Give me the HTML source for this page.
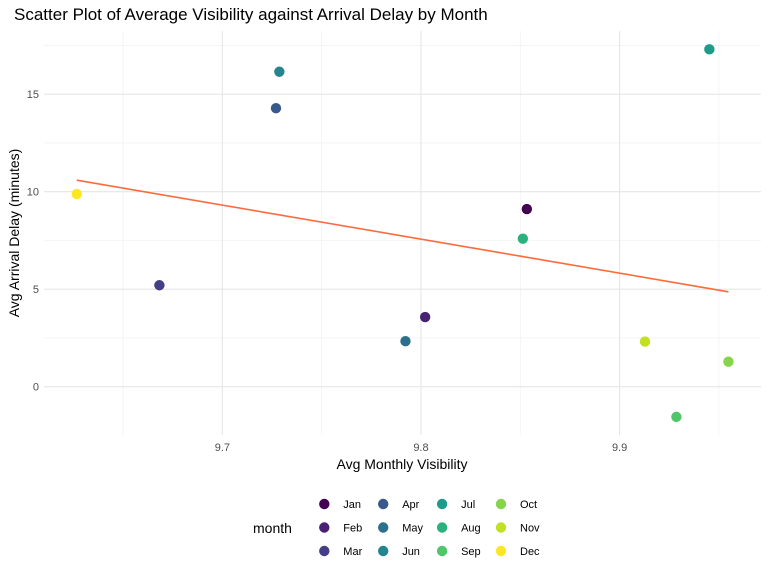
<!DOCTYPE html>
<html><head><meta charset="utf-8"><style>
body{margin:0;background:#fff;font-family:"Liberation Sans",sans-serif}
svg text{font-family:"Liberation Sans",sans-serif}
</style></head><body>
<svg id="chart" width="768" height="576" viewBox="0 0 768 576" xmlns="http://www.w3.org/2000/svg">
<text x="14" y="20" font-size="17" fill="#000">Scatter Plot of Average Visibility against Arrival Delay by Month</text>
<g id="grid"></g>
<g id="ticks"></g>
<g id="marks"></g>
<text x="402" y="469" font-size="14" text-anchor="middle">Avg Monthly Visibility</text>
<text transform="translate(19,233) rotate(-90)" font-size="14" text-anchor="middle">Avg Arrival Delay (minutes)</text>
<text x="253" y="533" font-size="14">month</text>
<g id="legend"></g>
</svg>
<script>
const months=["Jan","Feb","Mar","Apr","May","Jun","Jul","Aug","Sep","Oct","Nov","Dec"];
const visibility=[9.8533,9.8021,9.6683,9.727,9.7922,9.7287,9.9452,9.8513,9.9286,9.9548,9.9128,9.6267];
const delay=[9.11,3.57,5.2,14.28,2.33,16.15,17.3,7.59,-1.55,1.28,2.31,9.88];
const colors=["#440154","#482173","#433E85","#38598C","#2D708E","#25858E","#1E9B8A","#2BB07F","#51C56A","#85D54A","#C2DF23","#FDE725"];
const xTicks=[9.7,9.8,9.9];
const xMinor=[9.65,9.75,9.85,9.95];
const yTicks=[0,5,10,15];
const yMinor=[2.5,7.5,12.5,17.5];
const L=44,R=761,T=31,B=435;
const X0=9.6102,X1=9.9712,Y0=-2.48,Y1=18.24;
const sx=v=>L+(v-X0)/(X1-X0)*(R-L);
const sy=v=>B-(v-Y0)/(Y1-Y0)*(B-T);
const NS="http://www.w3.org/2000/svg";
function mk(tag,attrs,parent){const e=document.createElementNS(NS,tag);for(const k in attrs)e.setAttribute(k,attrs[k]);parent.appendChild(e);return e;}
const grid=document.getElementById('grid'),ticks=document.getElementById('ticks'),marks=document.getElementById('marks'),legend=document.getElementById('legend');
xMinor.forEach(v=>{const l=mk('line',{x1:sx(v),x2:sx(v),y1:T,y2:B,stroke:'#f2f2f2','stroke-width':0.8},grid);

});
yMinor.forEach(v=>{const l=mk('line',{x1:L,x2:R,y1:sy(v),y2:sy(v),stroke:'#f2f2f2','stroke-width':0.8},grid);

});
xTicks.forEach(v=>{const l=mk('line',{x1:sx(v),x2:sx(v),y1:T,y2:B,stroke:'#e6e6e6','stroke-width':1.1},grid);


const t=mk('text',{x:sx(v),y:451,'font-size':11,fill:'#4d4d4d','text-anchor':'middle'},ticks);t.textContent=v.toFixed(1);

});
yTicks.forEach(v=>{const l=mk('line',{x1:L,x2:R,y1:sy(v),y2:sy(v),stroke:'#e6e6e6','stroke-width':1.1},grid);


const t=mk('text',{x:39,y:sy(v)+4,'font-size':11,fill:'#4d4d4d','text-anchor':'end'},ticks);t.textContent=v;

});
// regression
const n=visibility.length,mx=visibility.reduce((a,b)=>a+b)/n,my=delay.reduce((a,b)=>a+b)/n;
let sxy=0,sxx=0;for(let i=0;i<n;i++){sxy+=(visibility[i]-mx)*(delay[i]-my);sxx+=(visibility[i]-mx)**2;}
const slope=sxy/sxx,icpt=my-slope*mx;
const xa=Math.min(...visibility),xb=Math.max(...visibility);
const rl=mk('line',{x1:sx(xa),y1:sy(icpt+slope*xa),x2:sx(xb),y2:sy(icpt+slope*xb),stroke:'#FF6A3D','stroke-width':1.6},marks);


visibility.forEach((v,i)=>{const c=mk('circle',{cx:sx(v),cy:sy(delay[i]),r:5.2,fill:colors[i]},marks);

});
months.forEach((m,i)=>{const col=Math.floor(i/3),row=i%3;const cx=324.3+col*58.9,cy=504+row*23.5;
const c=mk('circle',{cx:cx,cy:cy,r:5.2,fill:colors[i]},legend);


const t=mk('text',{x:cx+19,y:cy+4,'font-size':11,fill:'#000'},legend);t.textContent=m;

});
</script>
</body></html>
